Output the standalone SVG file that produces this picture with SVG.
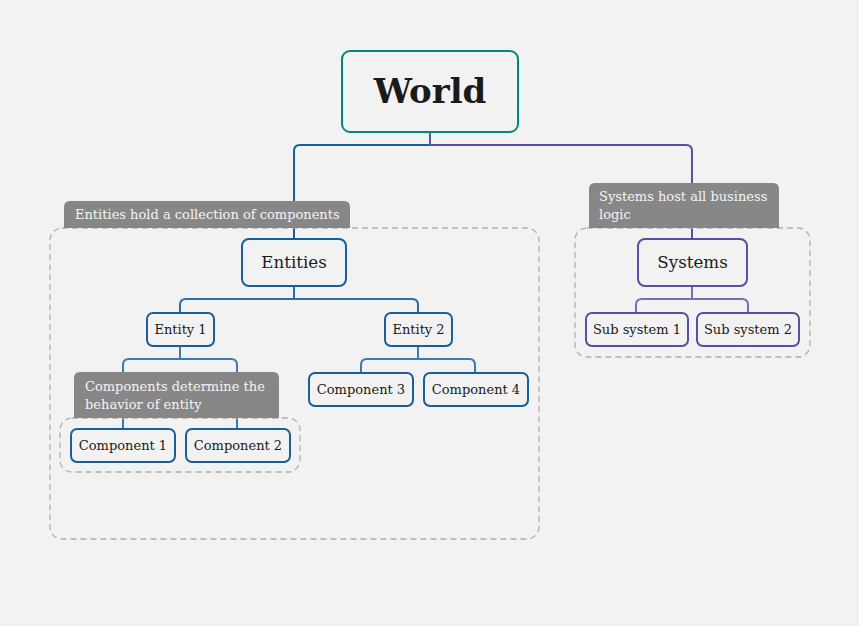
<svg xmlns="http://www.w3.org/2000/svg" width="859" height="626" viewBox="0 0 859 626">
<style>
text{font-family:"DejaVu Serif","Liberation Serif",serif;fill:#1a1a1a;text-anchor:middle}
.n{fill:#f2f2f2;stroke-width:2}
.b{stroke:#1a5e9a}
.p{stroke:#5a4e9e}
.t{stroke:#00877f}
.dash{fill:none;stroke:#b0b0b0;stroke-width:1.3;stroke-dasharray:6 4}
.call{fill:#878787}
.ct{fill:#f4f4f4;font-size:13px;text-anchor:start}
.c{fill:none;stroke-width:2}
.s{font-size:13px}
.m{font-size:16.7px}
</style>
<rect width="859" height="626" fill="#f2f2f2"/>
<g id="connectors">
<path class="c" d="M430 132 V145 H300 Q294 145 294 151 V239" stroke="#1a5e9a"/>
<path class="c" d="M430 132 V145 H686 Q692 145 692 151 V239" stroke="#5a4e9e"/>
<path class="c" d="M430 132 V145" stroke="#4f5ea0"/>
<path class="c" d="M294 286 V299 M186 299 H412 M186 299 Q180 299 180 305 V313 M412 299 Q418 299 418 305 V313" stroke="#2e6ea8"/>
<path class="c" d="M180 346 V359 M129 359 H231 M129 359 Q123 359 123 365 V429 M231 359 Q237 359 237 365 V429" stroke="#3a7ab4"/>
<path class="c" d="M418 346 V359 M367 359 H469 M367 359 Q361 359 361 365 V373 M469 359 Q475 359 475 365 V373" stroke="#3a7ab4"/>
<path class="c" d="M692 286 V299 M642 299 H742 M642 299 Q636 299 636 305 V313 M742 299 Q748 299 748 305 V313" stroke="#7a6db2"/>
</g>
<g id="entities-callout">
<rect class="dash" x="50" y="228" width="489" height="311" rx="12"/>
<path class="call" d="M64 228 V207 Q64 201 70 201 H344 Q350 201 350 207 V228 Z"/>
<text class="ct" x="75" y="219">Entities hold a collection of components</text>
</g>
<g id="systems-callout">
<rect class="dash" x="575" y="228" width="235" height="129" rx="12"/>
<path class="call" d="M589 228 V189 Q589 183 595 183 H773 Q779 183 779 189 V228 Z"/>
<text class="ct" x="599" y="201">Systems host all business</text>
<text class="ct" x="599" y="219">logic</text>
</g>
<g id="components-callout">
<rect class="dash" x="60" y="418" width="240" height="54" rx="12"/>
<path class="call" d="M74 418 V378 Q74 372 80 372 H273 Q279 372 279 378 V418 Z"/>
<text class="ct" x="85" y="391">Components determine the</text>
<text class="ct" x="85" y="409">behavior of entity</text>
</g>
<g id="world"><rect class="n t" x="342" y="51" width="176" height="81" rx="8"/><text x="430" y="103" font-size="34" font-weight="bold" fill="#111">World</text></g>
<g id="entities"><rect class="n b" x="242" y="239" width="104" height="47" rx="7"/><text class="m" x="294" y="268">Entities</text></g>
<g id="entity1"><rect class="n b" x="147" y="313" width="67" height="33" rx="6"/><text class="s" x="180.5" y="334">Entity 1</text></g>
<g id="entity2"><rect class="n b" x="385" y="313" width="67" height="33" rx="6"/><text class="s" x="418.5" y="334">Entity 2</text></g>
<g id="component1"><rect class="n b" x="71" y="429" width="104" height="33" rx="6"/><text class="s" x="123" y="450">Component 1</text></g>
<g id="component2"><rect class="n b" x="186" y="429" width="104" height="33" rx="6"/><text class="s" x="238" y="450">Component 2</text></g>
<g id="component3"><rect class="n b" x="309" y="373" width="104" height="33" rx="6"/><text class="s" x="361" y="394">Component 3</text></g>
<g id="component4"><rect class="n b" x="424" y="373" width="104" height="33" rx="6"/><text class="s" x="476" y="394">Component 4</text></g>
<g id="systems"><rect class="n p" x="638" y="239" width="109" height="47" rx="7"/><text class="m" x="692.5" y="268">Systems</text></g>
<g id="subsystem1"><rect class="n p" x="586" y="313" width="102" height="33" rx="6"/><text class="s" x="637" y="334">Sub system 1</text></g>
<g id="subsystem2"><rect class="n p" x="697" y="313" width="102" height="33" rx="6"/><text class="s" x="748" y="334">Sub system 2</text></g>
</svg>
